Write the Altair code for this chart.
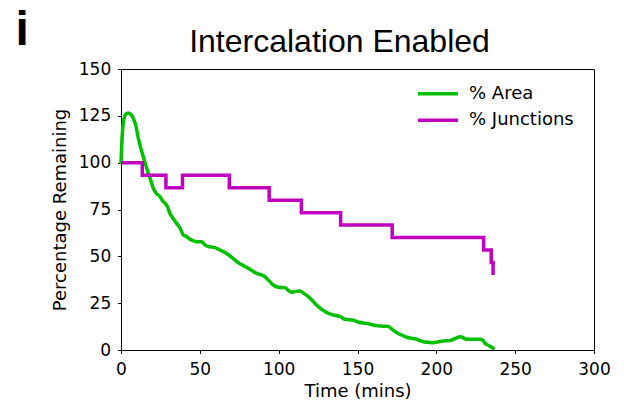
import altair as alt
import pandas as pd

# % Area remaining over time
area_time = [0, 0.6, 1.5, 3.0, 4.6, 6.5, 7.8, 9.5, 11, 12.5, 14.2, 15.8, 17.3, 18.8, 20.5,
             22.5, 24.7, 26.8, 27.9, 29.5, 31, 33, 35.3, 37.5, 39.5, 41.5, 43.8, 46, 48,
             51.1, 53, 55.3, 57.5, 59.6, 61.5, 63.8, 66.5, 69.1, 71.5, 74.4, 77, 79.7,
             83, 86, 88, 90.2, 93.4, 96.6, 99.8, 102, 104, 106, 108.3, 111, 113.5,
             116, 118.8, 121.5, 124, 126.5, 129.4, 132, 134.7, 138.9, 140, 142, 145,
             147.3, 151.1, 155.8, 159, 162.1, 166, 169.5, 172, 174.8, 178, 181.2, 184,
             186.5, 189, 191.7, 195, 198, 201, 204.4, 206.5, 208.6, 211, 213, 215,
             216.8, 218.2, 222, 225, 227.7, 229.5, 230.9, 233.5, 236.1]
area_pct = [100, 112, 121.5, 125.8, 126.5, 125.5, 123.7, 119.5, 113, 108, 103, 98.5, 94.3,
            90.8, 86.3, 83.5, 81.9, 79.2, 78.4, 76.5, 73, 70.3, 67.6, 65, 61.4, 60.6,
            59.1, 58.3, 57.8, 57.8, 56.3, 55.2, 55.0, 54.6, 53.9, 53, 51.8, 50.2, 48.5,
            46.6, 45.3, 44.1, 42.4, 40.9, 40.4, 39.7, 37.4, 34.7, 33.5, 33.4, 33.3,
            31.9, 30.8, 31.3, 31.5, 30.2, 28.5, 26.3, 24, 22.2, 20.5, 19.4, 18.7, 17.8,
            17.4, 16.4, 16.2, 15.9, 14.8, 14.2, 13.6, 13.0, 12.7, 12.5, 11.0, 9.3, 8.0,
            6.8, 6.3, 6.0, 5.2, 4.4, 4.1, 3.9, 4.3, 4.8, 4.9, 5.0, 5.8, 6.5, 7.1, 6.8,
            5.9, 5.8, 5.8, 5.7, 5.2, 3.6, 2.3, 0.9]

# % Junctions remaining (step changes)
junc_time = [0, 13.5, 28.5, 39, 68.7, 94, 114.4, 139.3, 172, 230, 234.8, 236]
junc_pct = [100, 93.33, 86.67, 93.33, 86.67, 80, 73.33, 66.67, 60, 53.33, 46.67, 40]

series_names = ["% Area", "% Junctions"]
series_colors = ["#00c000", "#c000c0"]

area_df = pd.DataFrame({"t": area_time, "pct": area_pct, "series": series_names[0]})
junc_df = pd.DataFrame({"t": junc_time, "pct": junc_pct, "series": series_names[1]})

W, H = 473, 281

x_enc = alt.X("t:Q", scale=alt.Scale(domain=[0, 300], nice=False),
              axis=alt.Axis(values=[0, 50, 100, 150, 200, 250, 300], title="Time (mins)",
                            titleX=W / 2, titleY=46.7, titleBaseline="alphabetic",
                            titleAlign="center", labelPadding=8, labelFlush=False))
y_enc = alt.Y("pct:Q", scale=alt.Scale(domain=[0, 150], nice=False),
              axis=alt.Axis(values=[0, 25, 50, 75, 100, 125, 150], title="Percentage Remaining",
                            titleX=-56, titleY=H / 2, titleAngle=270,
                            titleBaseline="alphabetic", titleAlign="center",
                            labelPadding=6.8, labelFlush=False))
# wide horizontal stroke for the legend swatches
swatch = "M-2,0H2"
color_enc = alt.Color("series:N",
                      scale=alt.Scale(domain=series_names, range=series_colors),
                      legend=alt.Legend(title=None, orient="none", legendX=305, legendY=12.7,
                                        symbolType=swatch, symbolSize=400,
                                        symbolStrokeWidth=3.5, labelFontSize=18,
                                        labelFont="DejaVu Sans", labelColor="black",
                                        labelOffset=19, rowPadding=5.6, padding=0))

area_line = alt.Chart(area_df).mark_line(strokeWidth=3.5, strokeCap="round",
                                         strokeJoin="round", interpolate="monotone").encode(
    x=x_enc, y=y_enc, color=color_enc)
junc_line = alt.Chart(junc_df).mark_line(strokeWidth=3.5, interpolate="step-after").encode(
    x=x_enc, y=y_enc, color=color_enc)

title_text = alt.Chart(pd.DataFrame({"s": ["Intercalation Enabled"]})).mark_text(
    font="Liberation Sans", fontSize=32, align="center", baseline="alphabetic",
    color="black").encode(text="s:N", x=alt.value(218.5), y=alt.value(-17.3))
panel_text = alt.Chart(pd.DataFrame({"s": ["i"]})).mark_text(
    font="Liberation Sans", fontSize=48, fontWeight="bold", align="left",
    baseline="alphabetic", color="black").encode(text="s:N", x=alt.value(-105.5), y=alt.value(-23.7))

chart = alt.layer(area_line, junc_line, title_text, panel_text).properties(
    width=W, height=H,
    background="white",
    autosize=alt.AutoSizeParams(type="none"),
    padding={"left": 121, "top": 69, "right": 30, "bottom": 54},
).configure_view(stroke="black", strokeWidth=1).configure_axis(
    domain=False, grid=False, tickColor="black", tickSize=3.5, tickWidth=1,
    labelFont="DejaVu Sans", labelFontSize=17, labelColor="black",
    titleFont="DejaVu Sans", titleFontSize=18, titleFontWeight="normal", titleColor="black",
)

chart.save("out.html", embed_options={"renderer": "svg", "actions": False})
